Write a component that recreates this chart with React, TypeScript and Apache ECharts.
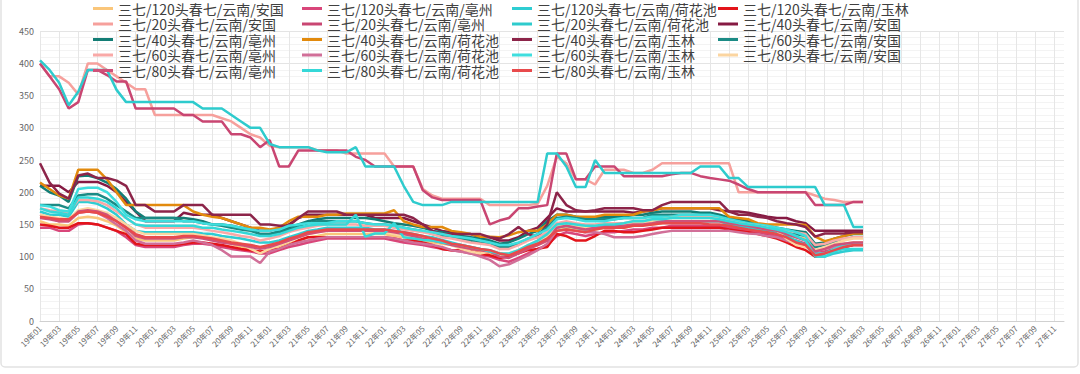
import React, { useEffect, useRef } from "react";
import * as echarts from "echarts";

const years = ["19", "20", "21", "22", "23", "24", "25", "26", "27"];
const monthNums = ["01", "02", "03", "04", "05", "06", "07", "08", "09", "10", "11", "12"];
const categories: string[] = [];
for (const y of years) for (const m of monthNums) categories.push(`${y}年${m}`);

const yTicks = { min: 0, max: 450, interval: 50 };

const names = [
  "三七/120头春七/云南/安国", "三七/120头春七/云南/亳州", "三七/120头春七/云南/荷花池", "三七/120头春七/云南/玉林",
  "三七/20头春七/云南/安国", "三七/20头春七/云南/亳州", "三七/20头春七/云南/荷花池", "三七/40头春七/云南/安国",
  "三七/40头春七/云南/亳州", "三七/40头春七/云南/荷花池", "三七/40头春七/云南/玉林", "三七/60头春七/云南/安国",
  "三七/60头春七/云南/亳州", "三七/60头春七/云南/荷花池", "三七/60头春七/云南/玉林", "三七/80头春七/云南/安国",
  "三七/80头春七/云南/亳州", "三七/80头春七/云南/荷花池", "三七/80头春七/云南/玉林",
];

const colors = [
  "#fac67a", "#d9467a", "#2ecdd2", "#e3141a",
  "#f6a09c", "#c94672", "#2ecbcd", "#861a43",
  "#137d75", "#e28a0d", "#8c2449", "#1b8b85",
  "#f9a9a7", "#d16f98", "#3fdede", "#fbd5a0",
  "#cf5179", "#35d8d8", "#e84a4c",
];

const s120AG = [155,150,150,148, 160,162,160,155, 148,138,128,125,
  125,125,125,128,130,130,128,125,120,115,110,105,
  110,115,120,125,130,132,135,135,135,135,135,135,
  135,132,130,128,125,122,120,118,115,110,108,105,
  100,100,105,112,118,125,
  140,145,142,140,142,145,145,145,148,150,150,152,155,155,155,155,155,155,
  150,148,145,142,140,138,135,130,128,110,112,118,120,122,122];
const s120BZ = [145,145,140,140, 150,152,150,145, 140,130,118,115,
  115,115,115,118,120,120,118,115,112,110,108,105,
  105,110,115,118,122,125,128,128,128,128,128,128,
  128,125,122,120,118,115,112,110,108,105,102,100,
  95,92,98,105,112,118,
  132,138,135,132,135,138,138,140,142,142,145,145,148,148,148,148,148,148,
  145,142,140,138,135,132,128,125,120,105,108,112,115,118,118];
const s120HHC = [170,165,165,162, 185,185,182,175, 165,150,140,138,
  138,138,138,138,138,136,135,132,130,128,125,122,
  122,125,130,135,140,142,145,145,145,145,145,142,
  142,140,138,135,132,130,126,122,118,115,112,110,
  105,102,108,115,122,130,
  145,148,145,142,145,148,148,150,150,152,152,155,155,155,155,155,155,155,
  150,148,145,142,140,138,132,125,118,100,100,105,108,110,110];
const s120YL = [150,148,145,145, 152,152,150,145, 140,135,120,118,
  118,118,118,120,122,122,120,118,115,112,110,108,
  110,112,118,125,130,130,130,130,130,130,130,130,
  130,128,125,125,122,118,112,110,110,108,105,102,
  98,100,105,110,112,115,
  135,132,125,125,132,140,140,138,138,140,142,145,145,145,145,145,145,145,
  142,140,138,135,132,128,122,115,110,100,105,112,115,118,118];
const s20AG = [400,380,380,370, 352,400,400,390, 380,370,360,360,
  320,320,320,320,320,320,320,315,310,300,290,285,
  272,270,270,270,270,265,265,265,260,260,260,260,
  260,240,240,240,205,195,190,190,190,190,190,180,
  180,180,180,180,182,210,
  255,245,220,220,212,235,235,235,230,230,235,245,245,245,245,245,245,245,
  245,200,200,200,200,200,200,200,200,195,190,188,185,185,185];
const s20BZ = [400,380,360,330, 340,390,390,382, 372,372,330,330,
  330,330,330,320,320,310,310,310,290,290,285,270,
  281,240,240,265,265,265,265,265,265,255,250,240,
  240,240,240,240,203,192,188,188,188,188,188,150,
  156,160,175,175,178,180,
  260,260,220,220,240,240,240,225,225,225,225,225,228,230,230,225,222,220,
  218,212,205,200,200,200,200,200,200,180,180,180,180,185,185];
const s20HHC = [405,390,370,335, 356,390,390,390, 359,340,340,340,
  340,340,340,340,340,330,330,330,320,310,300,300,
  275,270,270,270,270,265,262,262,262,270,240,240,
  240,240,210,185,180,180,180,185,185,185,185,185,
  185,185,185,185,185,260,
  260,240,208,208,250,230,230,230,230,230,230,230,230,230,230,240,240,240,
  222,222,208,208,208,208,208,208,208,208,180,180,180,146,146];
const s40AG = [210,210,210,200, 216,216,216,210, 200,185,170,155,
  155,155,155,168,165,165,165,160,155,150,145,140,
  140,145,150,160,165,165,165,165,165,165,165,160,
  160,160,160,155,150,145,140,138,135,135,130,130,
  125,125,130,140,145,160,
  175,170,170,170,170,170,170,170,168,170,172,175,175,175,175,175,175,172,
  170,170,168,165,162,160,160,155,152,140,140,140,140,140,140];
const s40BZ = [210,200,195,185, 225,226,222,215, 205,190,170,160,
  160,160,160,160,158,155,150,150,148,145,142,135,
  135,140,145,150,155,158,160,160,160,160,160,158,
  155,152,150,148,145,140,138,135,132,130,128,125,
  120,122,128,135,140,155,
  165,165,162,160,160,162,162,162,165,165,168,170,170,170,170,168,168,165,
  160,158,155,150,148,145,142,140,138,120,122,128,132,135,135];
const s40HHC = [215,205,195,190, 235,235,235,220, 200,180,180,180,
  180,180,180,180,170,165,162,160,155,150,145,145,
  142,145,155,162,162,162,165,165,167,167,167,167,
  167,172,155,150,146,146,146,140,138,135,131,131,
  130,133,138,140,140,150,
  165,165,162,162,162,165,165,165,165,170,172,175,175,175,175,175,175,175,
  162,160,158,152,150,150,150,150,149,131,124,128,132,136,136];
const s40YL = [245,215,198,190, 226,229,222,222, 218,210,180,180,
  170,170,170,180,180,180,165,165,165,165,165,150,
  150,148,148,160,170,170,170,170,165,165,165,165,
  165,165,165,160,150,140,135,135,135,135,135,130,
  128,135,146,135,130,150,
  200,180,172,170,172,175,175,175,175,172,172,180,185,185,185,185,185,185,
  170,165,165,162,160,155,152,150,146,131,136,136,136,138,138];
const s60AG = [180,180,180,175, 195,197,197,190, 180,170,160,160,
  160,160,160,155,155,152,150,148,145,142,140,135,
  135,138,142,148,152,155,155,155,155,155,152,150,
  150,148,145,142,140,135,132,130,128,125,122,120,
  115,115,120,128,135,145,
  160,162,160,158,158,158,158,160,160,160,165,165,165,165,165,165,162,160,
  155,152,150,148,145,142,138,135,132,115,118,122,126,130,130];
const s60BZ = [175,172,170,168, 188,188,186,180, 170,160,150,145,
  145,145,145,145,145,143,140,138,135,132,130,125,
  128,132,138,142,145,148,150,150,150,150,148,148,
  148,145,142,140,138,135,130,128,125,122,120,118,
  112,112,118,125,130,138,
  152,155,152,150,150,152,152,152,155,155,158,160,162,162,162,162,162,160,
  155,152,150,148,145,142,140,138,135,118,120,125,128,130,130];
const s60HHC = [165,160,155,155, 168,170,168,160, 150,140,125,120,
  120,120,120,122,125,122,118,110,100,100,100,90,
  108,112,118,122,125,128,130,130,130,130,130,130,
  130,128,125,122,120,118,115,110,108,105,100,95,
  85,88,95,102,110,120,
  140,142,140,138,138,135,130,130,130,132,135,138,140,140,140,140,140,140,
  140,138,136,135,132,130,125,120,118,110,112,115,118,120,120];
const s60YL = [180,178,172,170, 205,207,207,200, 185,165,158,155,
  155,155,155,155,155,152,150,150,148,145,142,140,
  140,142,148,150,152,152,152,155,155,155,152,150,
  150,148,145,142,140,138,135,132,130,128,125,122,
  118,118,122,128,135,142,
  158,160,158,155,155,155,158,160,160,160,162,162,162,165,165,165,165,162,
  158,155,152,150,148,145,142,138,132,105,105,112,118,120,120];
const s80AG = [165,162,160,158, 172,175,172,168, 160,150,140,135,
  135,135,135,135,135,133,130,128,125,120,112,105,
  112,118,125,130,135,138,140,140,140,140,140,138,
  138,135,132,130,128,125,122,118,112,108,105,108,
  105,105,110,118,125,132,
  148,150,148,145,148,150,150,150,152,152,155,158,160,160,160,160,160,158,
  155,152,150,148,145,140,128,118,115,110,115,120,125,128,128];
const s80BZ = [160,158,155,155, 170,172,170,165, 155,145,132,128,
  128,128,128,130,130,128,125,122,120,118,115,112,
  115,120,125,130,135,138,140,140,140,140,140,140,
  140,138,135,132,128,125,122,118,115,112,110,108,
  100,98,105,112,118,125,
  145,148,145,142,145,148,148,148,150,150,152,155,155,155,155,155,155,155,
  152,150,148,145,142,140,135,130,125,108,112,118,120,122,122];
const s80HHC = [175,170,168,165, 192,192,190,185, 175,160,150,148,
  148,148,148,148,148,145,145,142,140,138,135,132,
  132,135,140,145,148,150,150,150,150,165,131,136,
  136,152,130,128,126,125,122,120,118,115,112,108,
  105,105,110,118,125,135,
  150,152,150,148,148,150,150,152,155,155,158,158,160,160,160,160,160,158,
  155,152,150,148,145,142,138,132,125,100,100,108,112,112,112];
const s80YL = [162,160,158,158, 168,170,168,162, 155,145,135,130,
  130,130,130,132,132,130,128,125,122,120,118,115,
  118,122,128,132,138,140,142,142,142,142,142,142,
  142,140,138,135,132,128,125,120,118,115,112,110,
  105,102,108,115,120,128,
  140,142,140,138,142,145,145,145,148,148,150,152,152,152,152,152,150,150,
  148,145,142,140,138,135,130,122,118,102,105,110,115,118,118];

const seriesData = [
  s120AG, s120BZ, s120HHC, s120YL,
  s20AG, s20BZ, s20HHC, s40AG,
  s40BZ, s40HHC, s40YL, s60AG,
  s60BZ, s60HHC, s60YL, s80AG,
  s80BZ, s80HHC, s80YL,
];

const legendColumns = [
  [0, 4, 8, 12, 16],
  [1, 5, 9, 13, 17],
  [2, 6, 10, 14, 18],
  [3, 7, 11, 15],
];
const legendLefts = [93, 302, 512, 718];

export default function App() {
  const ref = useRef<HTMLDivElement>(null);
  useEffect(() => {
    if (!ref.current) return;
    const chart = echarts.init(ref.current, null, { renderer: "svg" });
    const font = "'Noto Sans CJK SC', 'Noto Sans', sans-serif";
    chart.setOption({
      animation: false,
      backgroundColor: "#ffffff",
      textStyle: { fontFamily: font },
      color: colors,
      graphic: [
        {
          type: "rect",
          shape: { x: 1, y: -6, width: 1077, height: 373, r: 4 },
          style: { fill: "none", stroke: "#e2e2e2", lineWidth: 1.5 },
          silent: true,
          z: -1,
        },
      ],
      legend: legendColumns.map((col, k) => ({
        orient: "vertical",
        left: legendLefts[k],
        top: 1,
        itemGap: 0.5,
        itemWidth: 20,
        itemHeight: 3,
        icon: "rect",
        padding: 0,
        textStyle: { fontSize: 14, color: "#404040", fontFamily: font, lineHeight: 15 },
        data: col.map((i) => names[i]),
      })),
      grid: { left: 40, right: 16, top: 31.3, bottom: 53, containLabel: false },
      xAxis: {
        type: "category",
        boundaryGap: false,
        data: categories,
        axisLine: { lineStyle: { color: "#d0d0d0" } },
        axisTick: { show: false },
        axisLabel: { interval: 1, rotate: 45, fontSize: 8, color: "#666", margin: 6 },
        splitLine: { show: true, interval: 1, lineStyle: { color: "#e6e6e6" } },
      },
      yAxis: {
        type: "value",
        min: yTicks.min,
        max: yTicks.max,
        interval: yTicks.interval,
        axisLine: { show: false },
        axisTick: { show: false },
        axisLabel: { fontSize: 9, color: "#666", margin: 6 },
        splitLine: { lineStyle: { color: "#e4e4e4" } },
        minorTick: { show: false, splitNumber: 5 },
        minorSplitLine: { show: true, lineStyle: { color: "#f3f3f3" } },
      },
      series: names.map((n, i) => ({
        name: n,
        type: "line",
        data: seriesData[i],
        symbol: "none",
        showSymbol: false,
        lineStyle: { width: 2.5, color: colors[i] },
        itemStyle: { color: colors[i] },
      })),
    });
    return () => chart.dispose();
  }, []);
  return <div ref={ref} style={{ position: "absolute", left: 0, top: 0, width: 1080, height: 374 }} />;
}
